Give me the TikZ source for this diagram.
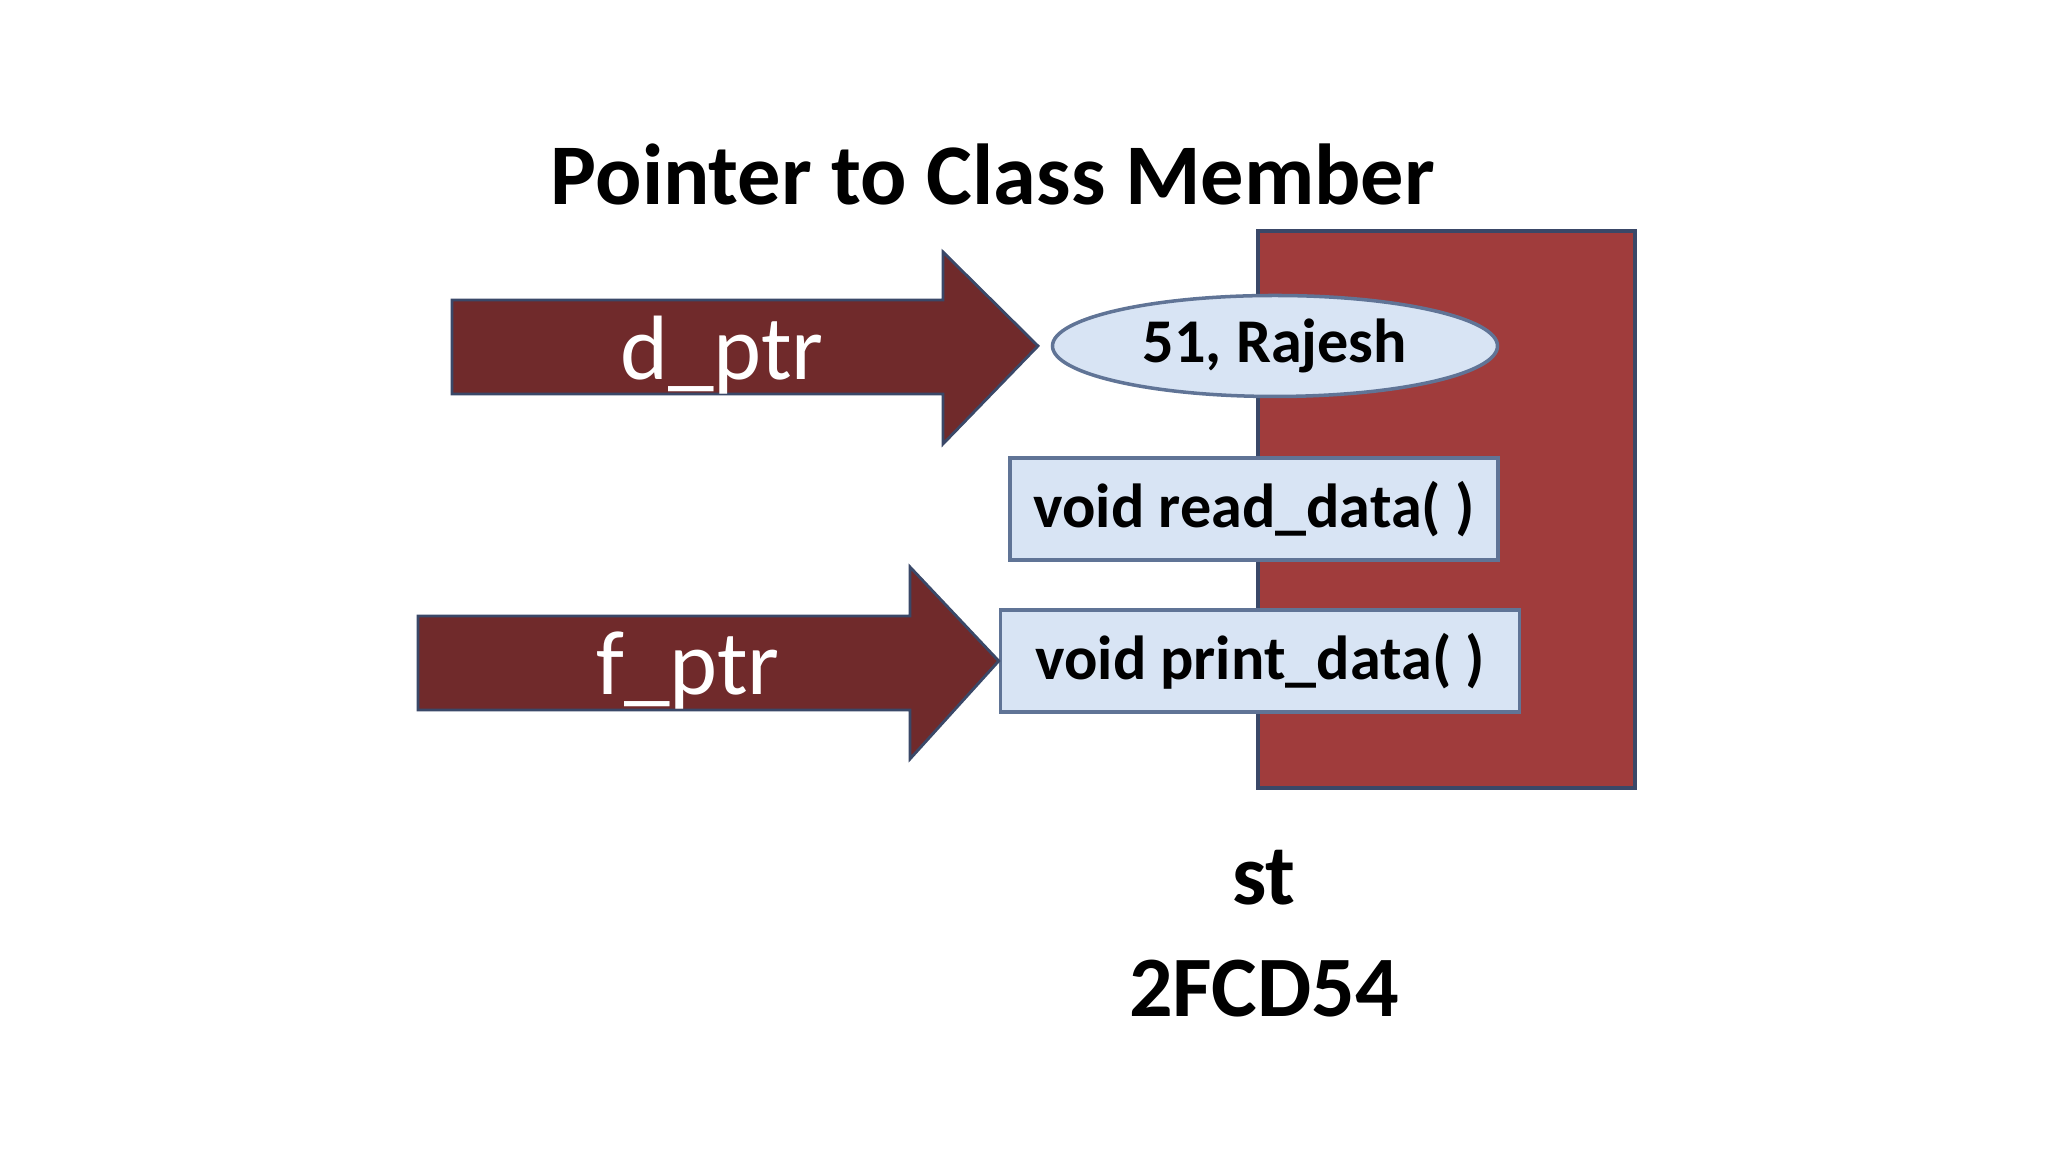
\documentclass[tikz,border=0pt]{standalone}
\usepackage{fontspec}
\setmainfont{Carlito}
\usetikzlibrary{shapes.geometric}
\definecolor{ptrred}{RGB}{112,42,43}
\definecolor{objred}{RGB}{160,60,60}
\definecolor{edgeblue}{RGB}{58,72,104}
\definecolor{memfill}{RGB}{216,228,244}
\definecolor{memedge}{RGB}{96,116,150}

\begin{document}
\begin{tikzpicture}[
  ptr/.style={fill=ptrred,draw=edgeblue,line width=0.8pt,line join=miter},
  ptrlabel/.style={text=white,font=\fontsize{26}{30}\selectfont},
  member/.style={fill=memfill,draw=memedge,line width=1pt,inner sep=0pt,
    font=\fontsize{17.7}{21}\selectfont\bfseries},
  caption/.style={font=\fontsize{24.5}{28}\selectfont\bfseries}]
\useasboundingbox (0,0) rectangle (20.48,11.52);
\node[font=\fontsize{24.6}{30}\selectfont\bfseries,anchor=base] (title) at (9.93,9.47) {Pointer to Class Member};
% object st
\draw[fill=objred,draw=edgeblue,line width=1pt] (12.58,3.64) rectangle (16.35,9.21);
\node[member,ellipse,minimum width=4.45cm,minimum height=1.01cm] (data) at (12.75,8.06) {51, Rajesh};
\node[member,rectangle,minimum width=4.88cm,minimum height=1.02cm] (read) at (12.54,6.43) {void read\_data( )};
\node[member,rectangle,minimum width=5.19cm,minimum height=1.02cm] (print) at (12.60,4.91) {void print\_data( )};
\node[caption] (st) at (12.64,2.74) {st};
\node[caption] (addr) at (12.64,1.63) {2FCD54};
% pointers
\coordinate (dtip) at (10.38,8.06);
\coordinate (ftip) at (print.west);
\draw[ptr] (4.52,7.58) -- (9.43,7.58) -- (9.43,7.08) -- (dtip) -- (9.43,9.00) -- (9.43,8.52) -- (4.52,8.52) -- cycle;
\draw[ptr] (4.18,4.42) -- (9.10,4.42) -- (9.10,3.93) -- (ftip) -- (9.10,5.85) -- (9.10,5.36) -- (4.18,5.36) -- cycle;
\node[ptrlabel] (dptr) at (7.22,7.97) {d\_ptr};
\node[ptrlabel] (fptr) at (6.88,4.81) {f\_ptr};
\end{tikzpicture}
\end{document}
